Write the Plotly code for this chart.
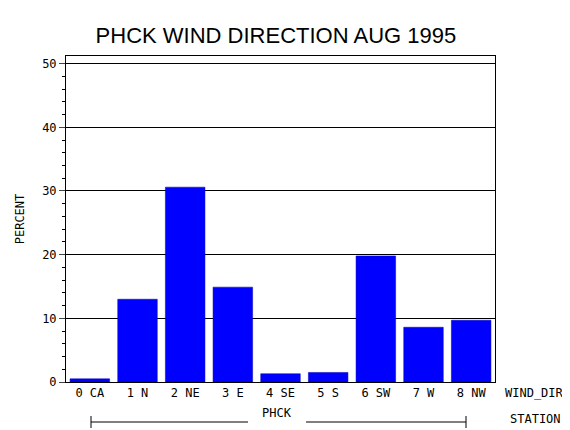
import plotly.graph_objects as go

categories = ["0 CA", "1 N", "2 NE", "3 E", "4 SE", "5 S", "6 SW", "7 W", "8 NW"]
percent = [0.5, 13.0, 30.6, 14.9, 1.3, 1.5, 19.8, 8.6, 9.7]
yticks = [0, 10, 20, 30, 40, 50]

F = "DejaVu Sans Mono"
L, R, T, B = 58, 83, 48, 56
H = 430 - T - B
W = 570 - L - R
def px(x): return (x - L) / W
def py(y): return (430 - B - y) / H

fig = go.Figure(go.Bar(x=categories, y=percent, marker=dict(color="#0000ff", line=dict(color="#0000aa", width=0.5)), width=0.83))
fig.update_layout(
    width=570, height=430, margin=dict(l=L, r=R, t=T, b=B, autoexpand=False),
    paper_bgcolor="white", plot_bgcolor="white", showlegend=False,
    title=dict(text="PHCK WIND DIRECTION AUG 1995", x=0.47, xanchor="center", y=0.955,
               font=dict(family="Liberation Sans", size=22, color="black")),
    font=dict(family=F, size=12, color="black"),
)
fig.update_xaxes(automargin=False, showline=True, linecolor="black", mirror=True, ticks="", tickfont=dict(family=F, size=12))
fig.update_yaxes(automargin=False, range=[0, 51.2], tickvals=yticks, showgrid=True, gridcolor="black", gridwidth=1,
                 showline=True, linecolor="black", mirror=True, ticks="outside", ticklen=6,
                 minor=dict(dtick=2, ticks="outside", ticklen=3, tickcolor="black"),
                 title=dict(text="PERCENT", font=dict(family=F, size=12), standoff=14),
                 tickfont=dict(family=F, size=12), zeroline=False)
yb = py(414)
fig.add_shape(type="line", xref="paper", yref="paper", x0=px(83), x1=px(240), y0=yb, y1=yb, line=dict(color="black", width=1))
fig.add_shape(type="line", xref="paper", yref="paper", x0=px(298), x1=px(458), y0=yb, y1=yb, line=dict(color="black", width=1))
for xx in (83, 458):
    fig.add_shape(type="line", xref="paper", yref="paper", x0=px(xx), x1=px(xx), y0=py(408), y1=py(420), line=dict(color="black", width=1))
fig.add_annotation(text="PHCK", xref="paper", yref="paper", x=px(269), y=yb, showarrow=False, font=dict(family=F, size=12))
fig.add_annotation(text="WIND_DIR", xref="paper", yref="paper", x=px(495), y=py(394), xanchor="left", showarrow=False, font=dict(family=F, size=12))
fig.add_annotation(text="STATION", xref="paper", yref="paper", x=px(500), y=py(420), xanchor="left", showarrow=False, font=dict(family=F, size=12))
fig.write_html("out.html")
